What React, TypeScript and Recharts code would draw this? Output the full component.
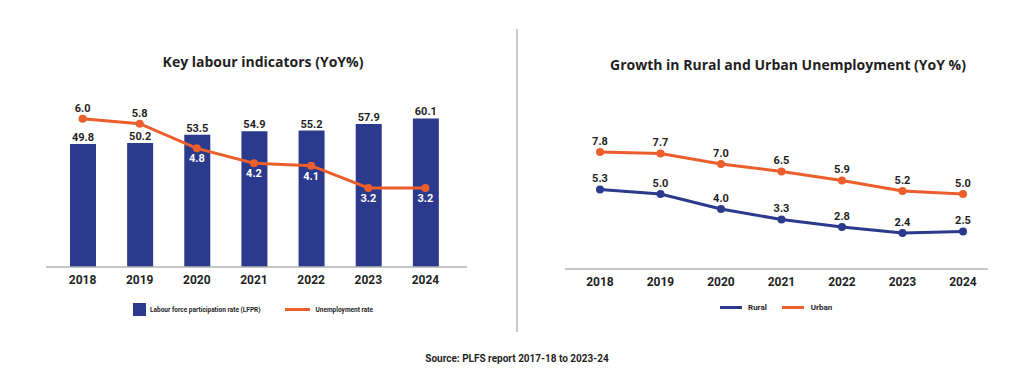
import React from 'react';
import {
  ComposedChart,
  LineChart,
  Bar,
  Line,
  XAxis,
  YAxis,
  LabelList,
  Legend,
} from 'recharts';

const years = ['2018', '2019', '2020', '2021', '2022', '2023', '2024'];
const lfpr = [49.8, 50.2, 53.5, 54.9, 55.2, 57.9, 60.1];
const unemployment = [6.0, 5.8, 4.8, 4.2, 4.1, 3.2, 3.2];
const rural = [5.3, 5.0, 4.0, 3.3, 2.8, 2.4, 2.5];
const urban = [7.8, 7.7, 7.0, 6.5, 5.9, 5.2, 5.0];

const BLUE = '#2b3a8c';
const ORANGE = '#ec5f2c';
const AXIS = '#b3b3b3';
const TEXT = '#1f1f1f';
const NUM_FONT = 'Roboto, sans-serif';
const TITLE_FONT = '"Open Sans", sans-serif';

const labourData = years.map((year, i) => ({
  year,
  lfpr: lfpr[i],
  unemployment: unemployment[i],
}));

const ruralUrbanData = years.map((year, i) => ({
  year,
  rural: rural[i],
  urban: urban[i],
}));

const tickStyle = { fill: TEXT, fontSize: 12, fontWeight: 700, fontFamily: NUM_FONT };

// first two points sit above the bars, the rest fall inside them
function unempLabel(props: any) {
  const { x, y, value, index } = props;
  const above = index < 2;
  return (
    <text
      x={x}
      y={above ? y - 10 : y + 11}
      textAnchor="middle"
      dominantBaseline="middle"
      fill={above ? TEXT : '#ffffff'}
      fontSize={11}
      fontWeight={700}
      fontFamily={NUM_FONT}
    >
      {Number(value).toFixed(1)}
    </text>
  );
}

function aboveLabel(props: any) {
  const { x, y, value } = props;
  return (
    <text
      x={x}
      y={y - 10}
      textAnchor="middle"
      dominantBaseline="middle"
      fill={TEXT}
      fontSize={11}
      fontWeight={700}
      fontFamily={NUM_FONT}
    >
      {Number(value).toFixed(1)}
    </text>
  );
}

function LabourLegend() {
  return (
    <div style={{ display: 'flex', alignItems: 'center', paddingLeft: 133, fontFamily: NUM_FONT, fontSize: 6.5, fontWeight: 700, color: TEXT }}>
      <span style={{ width: 13, height: 13, background: BLUE, marginRight: 4 }} />
      <span style={{ marginRight: 24 }}>Labour force participation rate (LFPR)</span>
      <span style={{ width: 25, height: 3, background: ORANGE, marginRight: 6 }} />
      <span>Unemployment rate</span>
    </div>
  );
}

function RuralUrbanLegend() {
  return (
    <div style={{ display: 'flex', alignItems: 'center', paddingLeft: 208, fontFamily: NUM_FONT, fontSize: 8, fontWeight: 700, color: TEXT }}>
      <span style={{ width: 22, height: 3, background: BLUE, marginRight: 6 }} />
      <span style={{ marginRight: 15 }}>Rural</span>
      <span style={{ width: 22, height: 3, background: ORANGE, marginRight: 7 }} />
      <span>Urban</span>
    </div>
  );
}

const titleStyle: React.CSSProperties = {
  position: 'absolute',
  width: 512,
  textAlign: 'center',
  fontFamily: TITLE_FONT,
  fontWeight: 700,
  fontSize: 14,
  color: TEXT,
};

export default function App() {
  return (
    <div style={{ position: 'absolute', left: 0, top: 0, width: 1024, height: 388, background: '#fff', overflow: 'hidden' }}>
      <div style={{ ...titleStyle, left: 7, top: 52 }}>Key labour indicators (YoY%)</div>
      <div style={{ ...titleStyle, left: 532, top: 55 }}>Growth in Rural and Urban Unemployment (YoY %)</div>

      <div style={{ position: 'absolute', left: 0, top: 0 }}>
        <ComposedChart width={512} height={388} data={labourData} margin={{ top: 94, right: 45, bottom: 91, left: 46 }}>
          <XAxis
            dataKey="year"
            height={30}
            tickLine={false}
            axisLine={{ stroke: AXIS, strokeWidth: 1.5 }}
            tick={tickStyle}
            padding={{ left: 8, right: 13 }}
            interval={0}
          />
          <YAxis yAxisId="bar" hide domain={[0, 70]} />
          <YAxis yAxisId="line" hide domain={[0, 7]} />
          <Bar yAxisId="bar" dataKey="lfpr" fill={BLUE} barSize={26} isAnimationActive={false}>
            <LabelList
              dataKey="lfpr"
              position="top"
              offset={3}
              fill={TEXT}
              fontSize={11}
              fontWeight={700}
              fontFamily={NUM_FONT}
              formatter={(v: any) => Number(v).toFixed(1)}
            />
          </Bar>
          <Line
            yAxisId="line"
            dataKey="unemployment"
            stroke={ORANGE}
            strokeWidth={3}
            dot={{ r: 4, fill: ORANGE, stroke: ORANGE, strokeWidth: 0 }}
            activeDot={false}
            label={unempLabel}
            isAnimationActive={false}
          />
          <Legend
            layout="horizontal"
            verticalAlign="middle"
            align="center"
            content={() => <LabourLegend />}
            wrapperStyle={{ position: 'absolute', left: 0, top: 303, width: 512, height: 14 }}
          />
        </ComposedChart>
      </div>

      <div style={{ position: 'absolute', left: 516, top: 29, width: 1.5, height: 303, background: '#c9c9c9' }} />

      <div style={{ position: 'absolute', left: 512, top: 0 }}>
        <LineChart width={512} height={388} data={ruralUrbanData} margin={{ top: 119, right: 36, bottom: 89, left: 53 }}>
          <XAxis
            dataKey="year"
            height={30}
            tickLine={false}
            axisLine={{ stroke: AXIS, strokeWidth: 1.5 }}
            tick={tickStyle}
            padding={{ left: 35, right: 25 }}
            interval={0}
          />
          <YAxis hide domain={[0, 10]} />
          <Line
            dataKey="urban"
            stroke={ORANGE}
            strokeWidth={3}
            dot={{ r: 4, fill: ORANGE, stroke: ORANGE, strokeWidth: 0 }}
            activeDot={false}
            label={aboveLabel}
            isAnimationActive={false}
          />
          <Line
            dataKey="rural"
            stroke={BLUE}
            strokeWidth={3}
            dot={{ r: 4, fill: BLUE, stroke: BLUE, strokeWidth: 0 }}
            activeDot={false}
            label={aboveLabel}
            isAnimationActive={false}
          />
          <Legend
            layout="horizontal"
            verticalAlign="middle"
            align="center"
            content={() => <RuralUrbanLegend />}
            wrapperStyle={{ position: 'absolute', left: 0, top: 303, width: 512, height: 14 }}
          />
        </LineChart>
      </div>

      <div
        style={{
          position: 'absolute',
          left: 0,
          top: 353,
          width: 1034,
          textAlign: 'center',
          fontFamily: NUM_FONT,
          fontWeight: 700,
          fontSize: 10,
          color: TEXT,
        }}
      >
        Source: PLFS report 2017-18 to 2023-24
      </div>
    </div>
  );
}
